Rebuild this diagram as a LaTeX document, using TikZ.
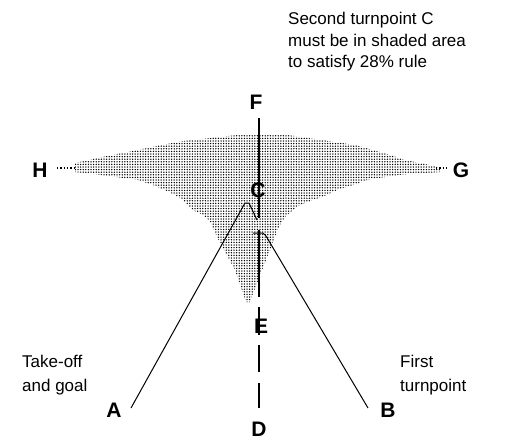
\documentclass[tikz,border=0pt]{standalone}
\usepackage{fontspec}
\setmainfont{Liberation Sans}
\usetikzlibrary{patterns.meta}
\begin{document}
\begin{tikzpicture}[x=1pt,y=-1pt,
  lbl/.style={font=\fontsize{21}{24}\selectfont\bfseries, inner sep=0pt},
  note/.style={font=\fontsize{17}{21.5}\selectfont, inner sep=0pt, align=left, anchor=west},
  lownote/.style={font=\fontsize{17}{24}\selectfont, inner sep=0pt, align=left, anchor=west},
  track/.style={line width=1pt},
  axisline/.style={line width=2.5pt, dash pattern=on 100pt off 12pt on 67pt off 10pt on 28pt off 10pt on 27pt off 11pt on 25pt},
  shade/.style={pattern={Dots[distance=2.6pt,radius=0.75pt]}, pattern color=black},
  tail/.style={line width=1.3pt, dash pattern=on 1.3pt off 2pt}]
\useasboundingbox (0,0) rectangle (521,440);
% shaded area
\fill[shade] (238,135) -- (287,135) -- (322,140) -- (355,145) -- (373,150) -- (390,155)
  -- (405,160) -- (430,165) -- (440,168) -- (440,172) -- (398,175) -- (367,180) -- (353,185)
  -- (337,190) -- (327,195) -- (313,200) -- (300,205) -- (293,210) -- (287,215) -- (283,220)
  -- (280,225) -- (277,231) -- (272,245) -- (262,270) -- (250,302) -- (246,302) -- (235,270)
  -- (217,237) -- (210,221) -- (203,215) -- (193,210) -- (188,205) -- (183,200) -- (175,195)
  -- (165,190) -- (153,185) -- (138,180) -- (102,175) -- (75,172) -- (75,163) -- (107,156)
  -- (133,151) -- (157,146) -- (183,141) -- cycle;
% labels
\node[lbl] (F) at (256,102) {F};
\node[lbl] (C) at (258,190) {C};
\node[lbl] (E) at (261,326) {E};
\node[lbl] (D) at (259,429) {D};
\node[lbl] (H) at (40,170) {H};
\node[lbl] (G) at (461,170) {G};
\node[lbl] (A) at (114,410) {A};
\node[lbl] (B) at (388,410) {B};
% texts
\node[note] (txt) at (288,42) {Second turnpoint C\\must be in shaded area\\to satisfy 28\% rule};
\node[lownote] (tk) at (22,375) {Take-off\\and goal};
\node[lownote] (ft) at (400,375) {First\\turnpoint};
% coordinates
\coordinate (hl) at (57,168);
\coordinate (hr) at (76,168);
\coordinate (gl) at (436,168);
\coordinate (gr) at (446,168);
\coordinate (ftop) at (259,118);
\coordinate (dbot) at (259,408);
\coordinate (a0) at (131,408);
\coordinate (a1) at (245,203);
\coordinate (a2) at (249,203);
\coordinate (a3) at (257,220);
\coordinate (b0) at (368,408);
\coordinate (b1) at (266,236);
\coordinate (b2) at (263,233);
\coordinate (b3) at (253,233);
% lines
\draw[tail] (hl) -- (hr);
\draw[tail] (gl) -- (gr);
\draw[axisline] (ftop) -- (dbot);
\draw[track] (a0) -- (a1) -- (a2) -- (a3);
\draw[track] (b0) -- (b1) -- (b2) -- (b3);
\end{tikzpicture}
\end{document}
